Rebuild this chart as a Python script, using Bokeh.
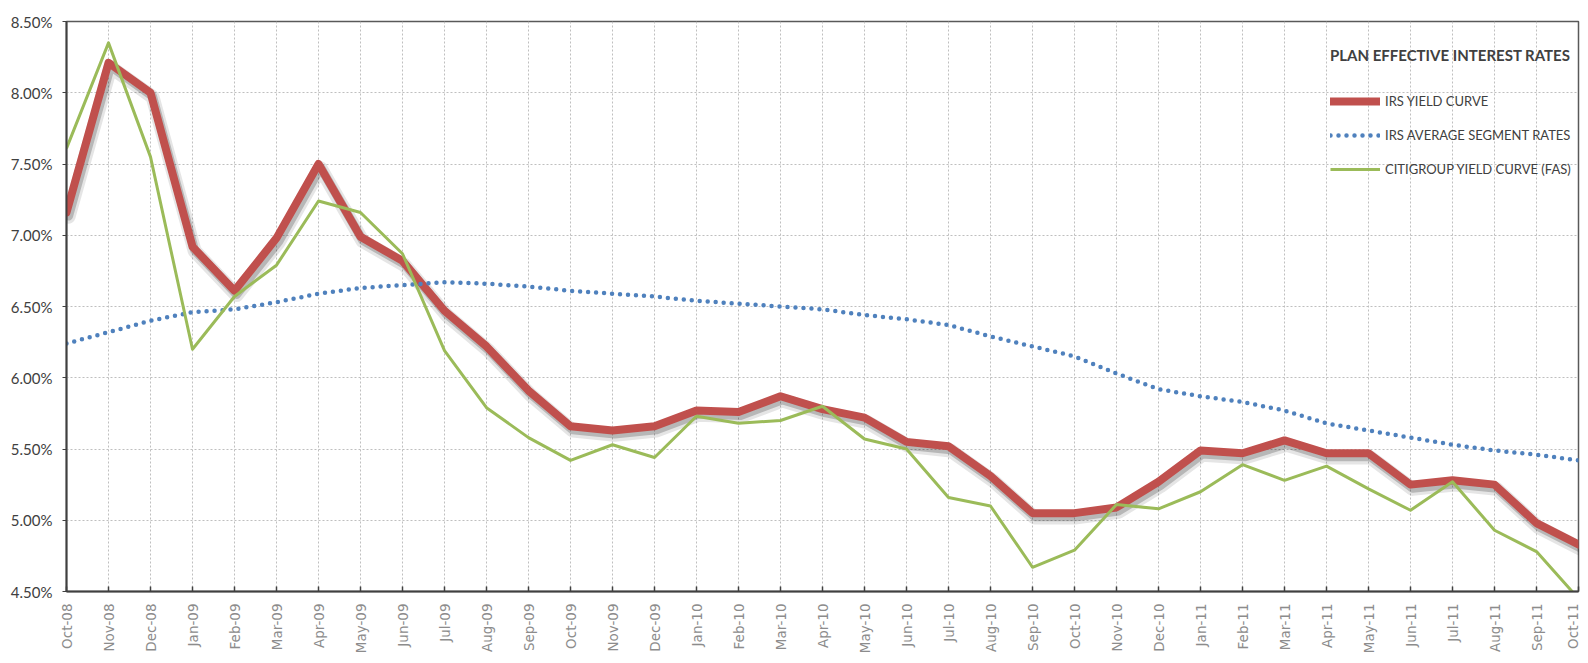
import math
from bokeh.plotting import figure
from bokeh.models import (ColumnDataSource, Range1d, FixedTicker, PrintfTickFormatter,
                          Legend, LegendItem)
from bokeh.transform import dodge
from bokeh.embed import file_html
from bokeh.resources import INLINE

months = ["Oct-08", "Nov-08", "Dec-08", "Jan-09", "Feb-09", "Mar-09", "Apr-09", "May-09",
          "Jun-09", "Jul-09", "Aug-09", "Sep-09", "Oct-09", "Nov-09", "Dec-09", "Jan-10",
          "Feb-10", "Mar-10", "Apr-10", "May-10", "Jun-10", "Jul-10", "Aug-10", "Sep-10",
          "Oct-10", "Nov-10", "Dec-10", "Jan-11", "Feb-11", "Mar-11", "Apr-11", "May-11",
          "Jun-11", "Jul-11", "Aug-11", "Sep-11", "Oct-11"]

irs_yield_curve = [7.16, 8.21, 8.00, 6.92, 6.61, 6.98, 7.50, 6.99, 6.82, 6.47, 6.22, 5.91,
                   5.66, 5.63, 5.66, 5.77, 5.76, 5.87, 5.78, 5.72, 5.55, 5.52, 5.31, 5.05,
                   5.05, 5.09, 5.27, 5.49, 5.47, 5.56, 5.47, 5.47, 5.25, 5.28, 5.25, 4.98, 4.83]

irs_avg_segment = [6.24, 6.32, 6.40, 6.46, 6.48, 6.53, 6.59, 6.63, 6.65, 6.67, 6.66, 6.64,
                   6.61, 6.59, 6.57, 6.54, 6.52, 6.50, 6.48, 6.44, 6.41, 6.37, 6.29, 6.22,
                   6.15, 6.03, 5.92, 5.87, 5.83, 5.77, 5.68, 5.63, 5.58, 5.53, 5.49, 5.46, 5.42]

citigroup_fas = [7.61, 8.35, 7.55, 6.20, 6.57, 6.79, 7.24, 7.16, 6.87, 6.19, 5.79, 5.58,
                 5.42, 5.53, 5.44, 5.73, 5.68, 5.70, 5.80, 5.57, 5.50, 5.16, 5.10, 4.67,
                 4.79, 5.11, 5.08, 5.20, 5.39, 5.28, 5.38, 5.22, 5.07, 5.27, 4.93, 4.78, 4.45]

y_ticks = [4.5, 5.0, 5.5, 6.0, 6.5, 7.0, 7.5, 8.0, 8.5]

src = ColumnDataSource(dict(x=list(range(len(months))), red=irs_yield_curve,
                            blue=irs_avg_segment, green=citigroup_fas))

p = figure(width=1580, height=656, output_backend="svg", toolbar_location=None,
           x_range=Range1d(0, len(months) - 1), y_range=Range1d(y_ticks[0], y_ticks[-1]),
           min_border_left=66, min_border_right=2, min_border_top=21, min_border_bottom=63)

p.background_fill_color = "white"
p.border_fill_color = "white"
p.outline_line_color = "#595959"
p.outline_line_width = 1.5

# grids
for g in (p.xgrid, p.ygrid):
    g.grid_line_color = "#BFBFBF"
    g.grid_line_dash = "2 2"
    g.grid_line_width = 1

# axes
p.xaxis.ticker = FixedTicker(ticks=list(range(len(months))))
p.xaxis.major_label_overrides = {i: m for i, m in enumerate(months)}
p.xaxis.major_label_orientation = math.pi / 2
p.xaxis.major_label_text_font = "DejaVu Sans"
p.xaxis.major_label_text_font_size = "13.5px"
p.xaxis.major_label_text_color = "#8C8C8C"
p.xaxis.major_tick_in = 5
p.xaxis.major_tick_out = 0
p.xaxis.minor_tick_line_color = None
p.xaxis.axis_line_color = "#404040"
p.xaxis.axis_line_width = 2
p.xaxis.major_tick_line_color = "#404040"
p.xaxis.major_tick_line_width = 1.5
p.xaxis.major_label_standoff = 12

p.yaxis.ticker = FixedTicker(ticks=y_ticks)
p.yaxis.formatter = PrintfTickFormatter(format="%.2f%%")
p.yaxis.major_label_text_font = "Lato"
p.yaxis.major_label_text_font_size = "15px"
p.yaxis.major_label_text_color = "#404040"
p.yaxis.major_tick_in = 0
p.yaxis.major_tick_out = 4
p.yaxis.minor_tick_line_color = None
p.yaxis.axis_line_color = "#404040"
p.yaxis.axis_line_width = 2
p.yaxis.major_tick_line_color = "#404040"
p.yaxis.major_label_standoff = 10

# shadow of the red line
p.line(x=dodge("x", 0.05), y=dodge("red", -0.03), source=src, line_color="#000000",
       line_alpha=0.10, line_width=14, line_join="round", line_cap="round")
p.line(x=dodge("x", 0.05), y=dodge("red", -0.025), source=src, line_color="#000000",
       line_alpha=0.20, line_width=9, line_join="round", line_cap="round")

r_red = p.line("x", "red", source=src, line_color="#C0504D", line_width=8,
               line_join="round", line_cap="round")
r_blue = p.line("x", "blue", source=src, line_color="#4F81BD", line_width=4.5,
                line_dash="0 8", line_cap="round")
r_green = p.line("x", "green", source=src, line_color="#9BBB59", line_width=3,
                 line_join="round")

legend = Legend(items=[LegendItem(label="IRS YIELD CURVE", renderers=[r_red]),
                       LegendItem(label="IRS AVERAGE SEGMENT RATES", renderers=[r_blue]),
                       LegendItem(label="CITIGROUP YIELD CURVE (FAS)", renderers=[r_green])],
                location=(1264, 412))
legend.title = "PLAN EFFECTIVE INTEREST RATES"
legend.title_text_font = "Lato"
legend.title_text_font_style = "bold"
legend.title_text_font_size = "15px"
legend.title_text_color = "#404040"
legend.title_standoff = 27
legend.label_text_font = "Lato"
legend.label_text_font_size = "13px"
legend.label_text_color = "#404040"
legend.glyph_width = 50
legend.glyph_height = 20
legend.label_height = 20
legend.label_standoff = 5
legend.spacing = 14
legend.padding = 0
legend.margin = 0
legend.background_fill_alpha = 0
legend.border_line_alpha = 0
p.add_layout(legend, "center")

open("out.html", "w").write(file_html(p, INLINE))
